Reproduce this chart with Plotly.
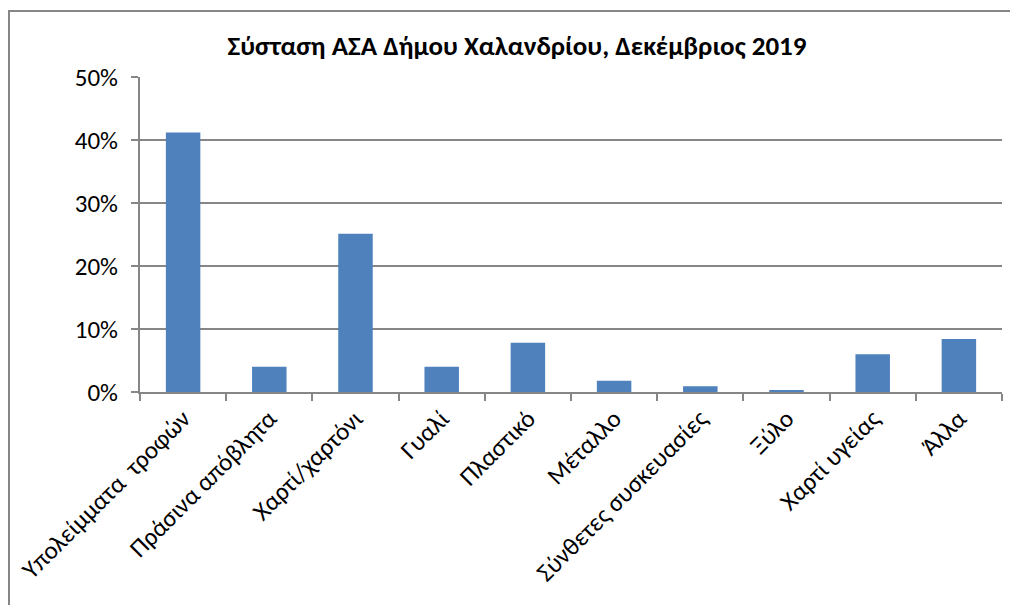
import plotly.graph_objects as go

categories = ["Υπολείμματα  τροφών", "Πράσινα απόβλητα", "Χαρτί/χαρτόνι", "Γυαλί", "Πλαστικό",
              "Μέταλλο", "Σύνθετες συσκευασίες", "Ξύλο", "Χαρτί υγείας", "Άλλα"]
values = [41.2, 4.0, 25.1, 4.0, 7.8, 1.8, 0.9, 0.3, 6.0, 8.4]
y_ticks = [0, 10, 20, 30, 40, 50]

FONT = "Carlito, Lato, sans-serif"

OFF = 8  # page body margin
W, H = 1018 - OFF, 605 - OFF
L, R, T, B = 140 - OFF, 16, 77 - OFF, 605 - 392
pw, ph = W - L - R, H - T - B

def px_x(x):
    return (x - OFF - L) / pw

def px_y(y):
    return 1 - (y - OFF - T) / ph

fig = go.Figure()
fig.add_trace(go.Bar(x=categories, y=values, marker=dict(color="#4F81BD", line=dict(width=0)),
                     hoverinfo="x+y"))

fig.update_layout(
    width=W, height=H,
    margin=dict(l=L, r=R, t=T, b=B, autoexpand=False),
    paper_bgcolor="white", plot_bgcolor="white",
    bargap=0.6,
    showlegend=False,
    title=dict(text="<b>Σύσταση ΑΣΑ Δήμου Χαλανδρίου, Δεκέμβριος 2019</b>",
               x=(517 - OFF) / W, xanchor="center", y=1 - (46 - OFF) / H, yanchor="middle",
               font=dict(family=FONT, size=27, color="black")),
    font=dict(family=FONT, color="black"),
    xaxis=dict(showline=True, linecolor="#868686", linewidth=2, ticks="outside",
               tickson="boundaries", ticklen=7, tickcolor="#868686", tickwidth=2,
               tickangle=-45, tickfont=dict(size=25, family=FONT), showgrid=False),
    yaxis=dict(range=[0, 50], tickvals=y_ticks, ticktext=[f"{v}%" for v in y_ticks],
               showline=True, linecolor="#868686", linewidth=2, ticks="outside",
               ticklen=7, tickcolor="#868686", tickwidth=2, ticklabelstandoff=8,
               showgrid=True, gridcolor="#868686", gridwidth=2, zeroline=False,
               tickfont=dict(size=25, family=FONT)),
)

fig.add_shape(type="rect", xref="paper", yref="paper",
              x0=px_x(9), x1=px_x(1030), y0=px_y(640), y1=px_y(11),
              line=dict(color="#868686", width=2), fillcolor="rgba(0,0,0,0)", layer="below")

fig.write_html("out.html")
